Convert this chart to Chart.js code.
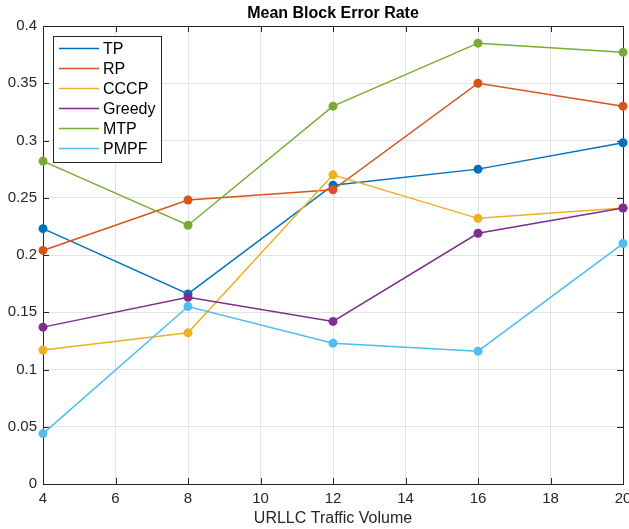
<!DOCTYPE html>
<html>
<head>
<meta charset="utf-8">
<script src="https://cdn.jsdelivr.net/npm/chart.js@4"></script>
<style>
  html, body { margin: 0; padding: 0; background: #fff; }
  #wrap { width: 629px; height: 529px; }
</style>
</head>
<body>
<div id="wrap"><canvas id="chart" width="629" height="529"></canvas></div>
<script>
// traffic volume on the x axis
var traffic = [4, 8, 12, 16, 20];

// mean block error rate per scheme
var tpValues     = [0.223, 0.166, 0.261, 0.275, 0.298];
var rpValues     = [0.204, 0.248, 0.257, 0.350, 0.330];
var cccpValues   = [0.117, 0.132, 0.270, 0.232, 0.241];
var greedyValues = [0.137, 0.163, 0.142, 0.219, 0.241];
var mtpValues    = [0.282, 0.226, 0.330, 0.385, 0.377];
var pmpfValues   = [0.044, 0.155, 0.123, 0.116, 0.210];

var seriesNames = ['TP', 'RP', 'CCCP', 'Greedy', 'MTP', 'PMPF'];
var seriesValues = [tpValues, rpValues, cccpValues, greedyValues, mtpValues, pmpfValues];
var seriesColors = ['#0072BD', '#D95319', '#EDB120', '#7E2F8E', '#77AC30', '#4DBEEE'];

var axisColor = '#262626';
var fontFamily = '"Liberation Sans", Arial, Helvetica, sans-serif';

function toPoints(values) {
    return values.map(function (v, i) {
        return { x: traffic[i], y: v };
    });
}

var datasets = seriesNames.map(function (name, i) {
    return {
        label: name,
        data: toPoints(seriesValues[i]),
        borderColor: seriesColors[i],
        backgroundColor: seriesColors[i],
        borderWidth: 1.5,
        pointRadius: 4.5,
        pointBorderWidth: 0,
        pointHoverRadius: 4.5,
        tension: 0,
        clip: false,
        order: seriesNames.length - i
    };
});

// title, box, inward ticks and the legend in the top-left corner, matlab style
var matlabDecor = {
    id: 'matlabDecor',
    beforeDatasetsDraw: function (chart) {
        var ctx = chart.ctx;
        var a = chart.chartArea;
        var xs = chart.scales.x;
        var ys = chart.scales.y;
        ctx.save();

        // box
        ctx.strokeStyle = axisColor;
        ctx.lineWidth = 1;
        ctx.strokeRect(Math.round(a.left) + 0.5, Math.round(a.top) + 0.5,
            Math.round(a.right - a.left), Math.round(a.bottom - a.top));

        // inward ticks
        ctx.beginPath();
        xs.ticks.forEach(function (t) {
            var px = Math.round(xs.getPixelForValue(t.value)) + 0.5;
            ctx.moveTo(px, a.bottom); ctx.lineTo(px, a.bottom - 6);
            ctx.moveTo(px, a.top); ctx.lineTo(px, a.top + 6);
        });
        ys.ticks.forEach(function (t) {
            var py = Math.round(ys.getPixelForValue(t.value)) + 0.5;
            ctx.moveTo(a.left, py); ctx.lineTo(a.left + 6, py);
            ctx.moveTo(a.right, py); ctx.lineTo(a.right - 6, py);
        });
        ctx.stroke();

        // title
        ctx.fillStyle = '#000';
        ctx.font = 'bold 16px ' + fontFamily;
        ctx.textAlign = 'center';
        ctx.textBaseline = 'middle';
        ctx.fillText('Mean Block Error Rate', (a.left + a.right) / 2, 14);
        ctx.restore();
    },
    afterDraw: function (chart) {
        var ctx = chart.ctx;
        ctx.save();
        // legend
        var lx = 53, ly = 36, lw = 108, lh = 126;
        ctx.fillStyle = '#fff';
        ctx.fillRect(lx, ly, lw, lh);
        ctx.strokeStyle = axisColor;
        ctx.lineWidth = 1;
        ctx.strokeRect(lx + 0.5, ly + 0.5, lw, lh);
        ctx.font = '16px ' + fontFamily;
        ctx.textAlign = 'left';
        ctx.textBaseline = 'middle';
        chart.data.datasets.forEach(function (ds, i) {
            var y = ly + 12.5 + i * 20;
            ctx.strokeStyle = ds.borderColor;
            ctx.lineWidth = 1.5;
            ctx.beginPath();
            ctx.moveTo(lx + 6, y);
            ctx.lineTo(lx + 46, y);
            ctx.stroke();
            ctx.fillStyle = '#000';
            ctx.fillText(ds.label, lx + 50, y + 1);
        });
        ctx.restore();
    }
};

var chart = new Chart(document.getElementById('chart'), {
    type: 'line',
    data: { datasets: datasets },
    options: {
        responsive: false,
        animation: false,
        layout: { padding: { top: 26, right: 6, left: 0, bottom: 0 } },
        plugins: {
            legend: { display: false },
            tooltip: { enabled: false }
        },
        scales: {
            x: {
                type: 'linear',
                min: 4,
                max: 20,
                ticks: {
                    stepSize: 2,
                    color: axisColor,
                    padding: 6,
                    font: { family: fontFamily, size: 15 }
                },
                grid: { color: '#e3e3e3', drawTicks: false },
                border: { display: false },
                title: {
                    display: true,
                    text: 'URLLC Traffic Volume',
                    color: axisColor,
                    padding: { top: 0, bottom: 1 },
                    font: { family: fontFamily, size: 16 }
                },
                afterFit: function (scale) {
                    scale.height = 45;
                    scale.paddingLeft = 0;
                    scale.paddingRight = 0;
                }
            },
            y: {
                min: 0,
                max: 0.4,
                ticks: {
                    stepSize: 0.05,
                    color: axisColor,
                    padding: 6,
                    font: { family: fontFamily, size: 15 },
                    callback: function (value) {
                        return String(Number(value.toFixed(2)));
                    }
                },
                grid: { color: '#e3e3e3', drawTicks: false },
                border: { display: false },
                afterFit: function (scale) {
                    scale.width = 43;
                    scale.paddingTop = 0;
                    scale.paddingBottom = 0;
                }
            }
        }
    },
    plugins: [matlabDecor]
});
</script>
</body>
</html>
